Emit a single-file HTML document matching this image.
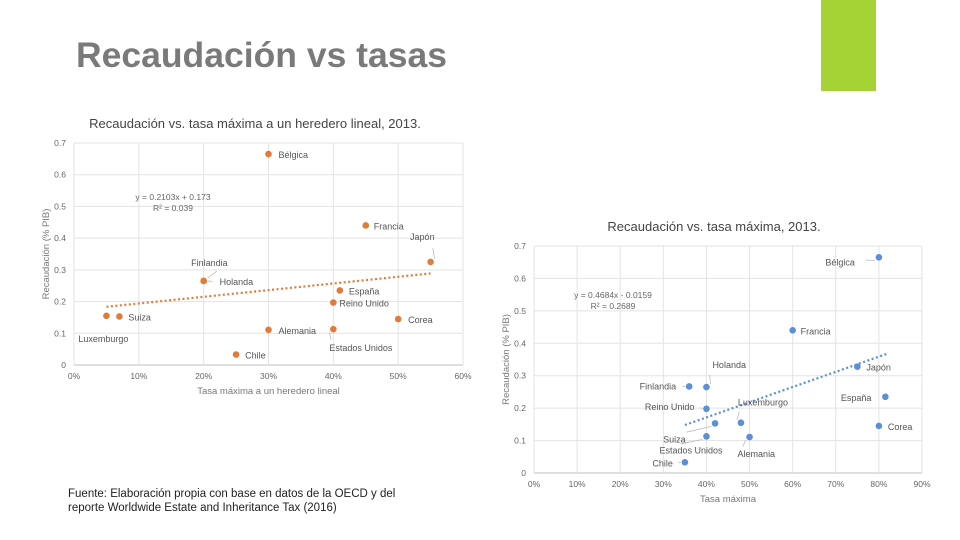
<!DOCTYPE html>
<html><head><meta charset="utf-8">
<style>
body{margin:0;background:#fff;}
#slide{position:relative;width:960px;height:540px;overflow:hidden;background:#fff;font-family:"Liberation Sans",sans-serif;}
#title{position:absolute;left:76px;top:35px;font-size:35.5px;font-weight:bold;color:#7a7a7a;white-space:nowrap;}
#accent{position:absolute;left:821px;top:0;width:55px;height:91px;background:#a5d336;}
#note{position:absolute;left:68px;top:487px;font-size:11.5px;color:#222;line-height:14px;}
svg{position:absolute;left:0;top:0;}
</style></head>
<body>
<div id="slide">
<div id="title">Recaudación vs tasas</div>
<div id="accent"></div>
<div id="note">Fuente: Elaboración propia con base en datos de la OECD y del<br>reporte Worldwide Estate and Inheritance Tax (2016)</div>
<svg id="chart" width="960" height="540"></svg>
</div>
<script>
// Chart 1 data (tasa a heredero lineal %, recaudación % PIB)
const c1Names=["Bélgica","Francia","Japón","Finlandia","Holanda","España","Reino Unido","Suiza","Luxemburgo","Corea","Alemania","Estados Unidos","Chile"];
const c1X=[30,45,55,20,20,41,40,7,5,50,30,40,25];
const c1Y=[0.665,0.44,0.325,0.265,0.265,0.235,0.197,0.153,0.155,0.145,0.111,0.113,0.033];
const c1XTicks=[0,10,20,30,40,50,60];
const c1YTicks=[0,0.1,0.2,0.3,0.4,0.5,0.6,0.7];
const c1Trend=[0.2103,0.173];
// Chart 2 data (tasa máxima %, recaudación % PIB)
const c2Names=["Bélgica","Francia","Japón","España","Corea","Finlandia","Holanda","Reino Unido","Luxemburgo","Suiza","Estados Unidos","Alemania","Chile"];
const c2X=[80,60,75,81.5,80,36,40,40,48,42,40,50,35];
const c2Y=[0.665,0.44,0.328,0.235,0.145,0.267,0.265,0.198,0.155,0.153,0.113,0.111,0.033];
const c2XTicks=[0,10,20,30,40,50,60,70,80,90];
const c2YTicks=[0,0.1,0.2,0.3,0.4,0.5,0.6,0.7];
const c2Trend=[0.4684,-0.0159];

const NS="http://www.w3.org/2000/svg";
const svg=document.getElementById('chart');
function mk(tag,attrs,parent,text){const e=document.createElementNS(NS,tag);for(const k in attrs)e.setAttribute(k,attrs[k]);if(text!==undefined)e.textContent=text;(parent||svg).appendChild(e);return e;}

const lab1={"Bélgica":[10,4,"start"],"Francia":[8,4,"start"],"Japón":[4,-22,"end",1],"Finlandia":[24,-15,"end",1],"Holanda":[16,4,"start",1],"España":[9,4,"start"],"Reino Unido":[6,4,"start"],"Suiza":[9,4,"start"],"Luxemburgo":[-28,26,"start"],"Corea":[10,4,"start"],"Alemania":[10,4,"start"],"Estados Unidos":[-4,22,"start",1],"Chile":[9,4,"start"]};
const lab2={"Bélgica":[-24,8,"end",1],"Francia":[8,4,"start"],"Japón":[9,4,"start"],"España":[-14,4,"end"],"Corea":[9,4,"start"],"Finlandia":[-13,3,"end",1],"Holanda":[6,-19,"start",1],"Reino Unido":[-12,1,"end",1],"Luxemburgo":[-3,-17,"start",1],"Suiza":[-52,19,"start",1],"Estados Unidos":[-47,17,"start",1],"Alemania":[-12,20,"start",1],"Chile":[-12,4,"end",1]};

function chart(cfg){
  const g=mk('g',{},svg);
  
  
  const xs=v=>cfg.x0+(v-cfg.xmin)/(cfg.xmax-cfg.xmin)*(cfg.x1-cfg.x0);
  const ys=v=>cfg.y0-(v/0.7)*(cfg.y0-cfg.y1);
  cfg.yTicks.forEach(t=>{
    const l=mk('line',{x1:cfg.x0,x2:cfg.x1,y1:ys(t),y2:ys(t),stroke:t===0?'#bfbfbf':'#e3e3e3','stroke-width':1},g);
    
    const tx=mk('text',{x:cfg.x0-8,y:ys(t)+3,'text-anchor':'end','font-size':8.5,fill:'#666'},g,t===0?'0':t.toFixed(1));
    
  });
  cfg.xTicks.forEach(t=>{
    const l=mk('line',{x1:xs(t),x2:xs(t),y1:cfg.y1,y2:cfg.y0,stroke:'#e3e3e3','stroke-width':1},g);
    
    const tx=mk('text',{x:xs(t),y:cfg.y0+14,'text-anchor':'middle','font-size':8.5,fill:'#666'},g,t+'%');
    
  });
  const tt=mk('text',{x:cfg.tx,y:cfg.ty,'text-anchor':'middle','font-size':13,fill:'#444'},g,cfg.title);
  
  const xt=mk('text',{x:(cfg.x0+cfg.x1)/2,y:cfg.y0+29,'text-anchor':'middle','font-size':9.5,fill:'#777'},g,cfg.xlabel);
  
  const yt=mk('text',{x:0,y:0,'text-anchor':'middle','font-size':9.5,fill:'#777',transform:`translate(${cfg.yx},${(cfg.y0+cfg.y1)/2}) rotate(-90)`},g,'Recaudación (% PIB)');
  
  const [m,b]=cfg.trend;
  const tl=mk('line',{x1:xs(cfg.ta),y1:ys(m*cfg.ta/100+b),x2:xs(cfg.tb),y2:ys(m*cfg.tb/100+b),stroke:cfg.color,'stroke-width':2.2,'stroke-dasharray':'2,2.5'},g);
  
  const eq=mk('text',{x:cfg.ex,y:cfg.ey,'text-anchor':'middle','font-size':8.5,fill:'#666'},g,cfg.eq);
  
  const r2=mk('text',{x:cfg.ex,y:cfg.ey+11,'text-anchor':'middle','font-size':8.5,fill:'#666'},g,cfg.r2);
  
  cfg.names.forEach((n,i)=>{
    const px=xs(cfg.X[i]),py=ys(cfg.Y[i]);
    const o=cfg.labels[n];
    if(o[3]){
      const lx=px+o[0]*0.55, ly=py+(o[1]-3)*0.55;
      const ll=mk('line',{x1:px+(o[0]>0?4:-4),y1:py+(o[1]>4?3:(o[1]<-4?-3:0)),x2:lx,y2:ly,stroke:'#bbb','stroke-width':0.8},g);
      
    }
    const c=mk('circle',{cx:px,cy:py,r:3.3,fill:cfg.color},g);
    
    
    const t=mk('text',{x:px+o[0],y:py+o[1],'text-anchor':o[2],'font-size':9,fill:'#555'},g,n);
    
    
  });
}
chart({name:'chart-heredero-lineal',x0:74,x1:463,y0:365,y1:143,xmin:0,xmax:60,xTicks:c1XTicks,yTicks:c1YTicks,
  title:'Recaudación vs. tasa máxima a un heredero lineal, 2013.',tx:255,ty:128,xlabel:'Tasa máxima a un heredero lineal',yx:49,
  trend:c1Trend,ta:5,tb:55,color:'#e07b39',eq:'y = 0.2103x + 0.173',r2:'R² = 0.039',ex:173,ey:200,
  names:c1Names,X:c1X,Y:c1Y,labels:lab1});
chart({name:'chart-tasa-maxima',x0:534,x1:922,y0:473,y1:246,xmin:0,xmax:90,xTicks:c2XTicks,yTicks:c2YTicks,
  title:'Recaudación vs. tasa máxima, 2013.',tx:714,ty:231,xlabel:'Tasa máxima',yx:509,
  trend:c2Trend,ta:35,tb:82,color:'#5b8fd6',eq:'y = 0.4684x - 0.0159',r2:'R² = 0.2689',ex:613,ey:298,
  names:c2Names,X:c2X,Y:c2Y,labels:lab2});
</script>
</body></html>
